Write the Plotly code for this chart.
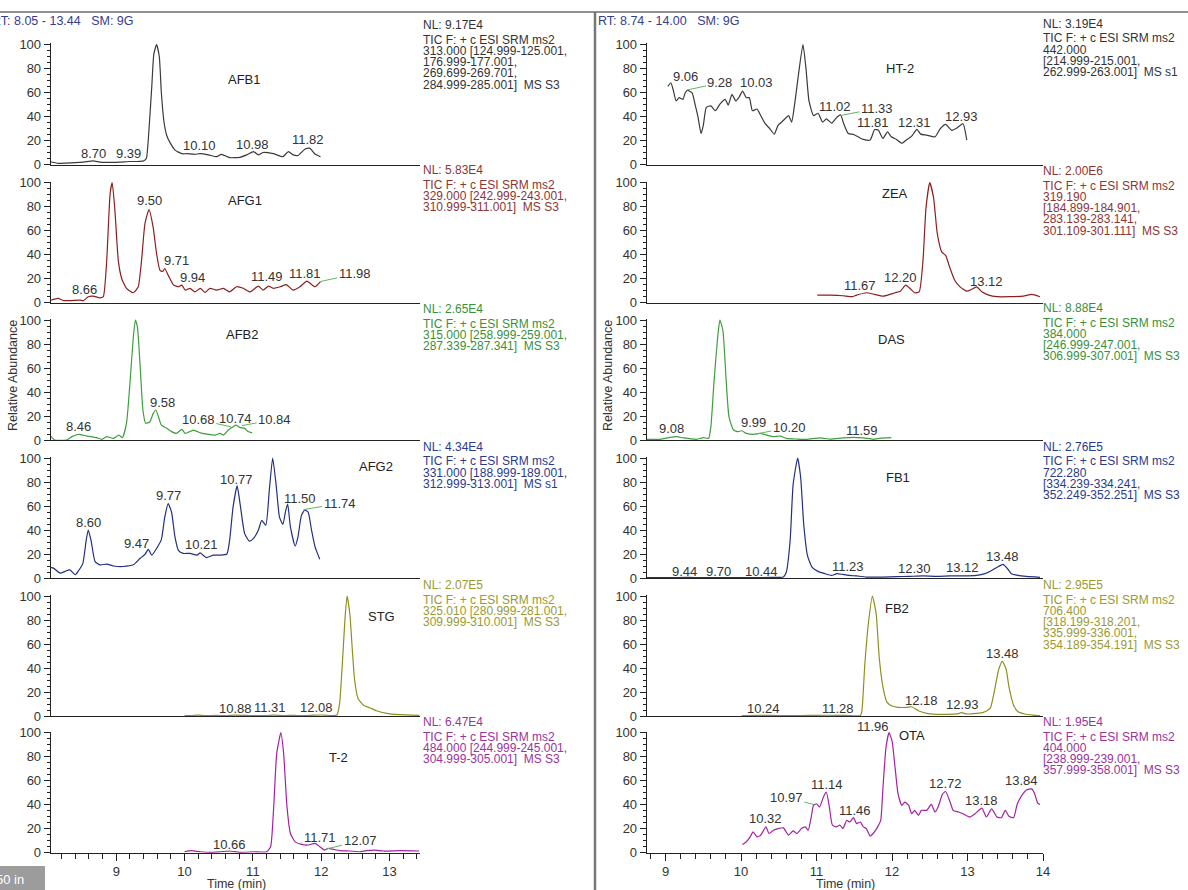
import plotly.graph_objects as go

# ---------------- data ----------------
AFB1_t = [8.04, 8.15, 8.27, 8.40, 8.52, 8.66, 8.76, 8.86, 9.05, 9.20, 9.30, 9.40, 9.44, 9.48, 9.52, 9.55, 9.59, 9.63, 9.66, 9.70,
          9.74, 9.79, 9.86, 9.96, 10.03, 10.15, 10.23, 10.35, 10.47, 10.54, 10.66, 10.81, 10.91, 11.01, 11.08, 11.15, 11.30, 11.44, 11.52, 11.59,
          11.66, 11.76, 11.83, 11.91, 11.99]
AFB1_v = [2.3, 1.0, 1.2, 1.5, 2.0, 3.0, 2.0, 1.7, 2.0, 2.5, 2.5, 3.0, 5, 30, 65, 92, 100, 90, 60, 35,
          24, 18, 12, 9, 9, 8.5, 9, 8, 6.5, 8.5, 5.7, 6, 8, 10.8, 8, 10, 9, 6.5, 10.8, 8,
          7.5, 12.7, 13.6, 8.8, 6.5]

AFG1_t = [8.04, 8.15, 8.23, 8.47, 8.52, 8.59, 8.66, 8.76, 8.81, 8.86, 8.91, 8.94, 8.98, 9.03, 9.08, 9.15, 9.25, 9.32, 9.37, 9.42,
          9.48, 9.54, 9.59, 9.64, 9.68, 9.71, 9.76, 9.84, 9.91, 9.96, 10.01, 10.08, 10.15, 10.23, 10.30, 10.37, 10.47, 10.57, 10.66, 10.76,
          10.86, 10.96, 11.08, 11.15, 11.23, 11.30, 11.40, 11.49, 11.59, 11.69, 11.79, 11.91, 11.99]
AFG1_v = [2, 3.6, 1.7, 2.2, 1.7, 5, 5.5, 4, 5, 35, 91, 100, 77, 35, 20, 12, 8.3, 13, 35, 66,
          77.6, 63, 41, 27, 26, 28.5, 23, 14.7, 13.3, 14.7, 10.5, 12, 9, 12, 8.6, 12, 10.5, 12, 9, 13.3,
          12, 9, 13.8, 10.5, 13.8, 12, 13.3, 15, 10.5, 13.3, 18, 13.3, 17.5]

AFB2_t = [8.04, 8.10, 8.27, 8.35, 8.45, 8.57, 8.71, 8.79, 8.86, 8.96, 9.04, 9.09, 9.15, 9.20, 9.25, 9.28, 9.31, 9.35, 9.39, 9.43,
          9.49, 9.54, 9.58, 9.62, 9.66, 9.74, 9.81, 9.88, 9.96, 10.01, 10.13, 10.23, 10.35, 10.45, 10.52, 10.57, 10.64, 10.71, 10.75, 10.81,
          10.88, 10.93, 10.99]
AFB2_v = [3.3, 0, 0, 2.8, 4.7, 3.3, 2, 0.6, 2.8, 1.4, 4, 1.9, 14, 47, 86, 100, 94, 61, 25, 14,
          15, 22, 25, 19, 12.4, 9.7, 7, 5.5, 8.8, 5.5, 8.3, 6, 4.7, 4.1, 5.5, 4.1, 8.3, 11, 12.4, 10.5,
          9.7, 7, 6]

AFG2_t = [8.04, 8.08, 8.18, 8.25, 8.32, 8.40, 8.44, 8.51, 8.56, 8.59, 8.63, 8.69, 8.76, 8.86, 8.96, 9.10, 9.25, 9.35, 9.42, 9.47,
          9.52, 9.59, 9.66, 9.71, 9.76, 9.81, 9.86, 9.91, 9.98, 10.08, 10.18, 10.23, 10.27, 10.32, 10.42, 10.52, 10.62, 10.66, 10.71, 10.77,
          10.82, 10.88, 10.95, 11.01, 11.08, 11.13, 11.19, 11.24, 11.29, 11.34, 11.39, 11.44, 11.48, 11.51, 11.55, 11.62, 11.66, 11.71, 11.76, 11.81,
          11.86, 11.91, 11.98]
AFG2_v = [8.8, 8.2, 4, 5.5, 6.8, 2.7, 5.5, 12, 31.5, 40, 31.5, 13.7, 11, 11.5, 10, 9.6, 11, 16.4, 19.7, 23.8,
          19, 24.6, 32, 50.7, 62, 54.8, 34, 23, 20.5, 20.5, 19, 21, 19, 17, 19, 19, 20, 31.5, 59, 76.7,
          59, 37, 30.7, 33, 39.7, 48, 44, 72.6, 100, 78, 50.7, 44.7, 56, 61.6, 42.5, 26.6, 34, 52, 56.7, 54.8,
          39.7, 26, 15.6]

STG_t = [10.00, 10.10, 10.20, 10.30, 10.45, 10.60, 10.75, 10.90, 11.05, 11.20, 11.31, 11.45, 11.60, 11.75, 11.90, 12.05, 12.15, 12.23, 12.27, 12.31,
         12.35, 12.38, 12.42, 12.46, 12.49, 12.54, 12.62, 12.71, 12.81, 12.96, 13.15, 13.44]
STG_v = [0.3, 0.3, 0.8, 0.3, 0.5, 0.3, 0.8, 0.5, 0.3, 0.4, 0.8, 0.4, 0.5, 0.3, 0.7, 0.8, 0.4, 0.8, 10.5, 43.5,
         82, 100, 85, 52, 30, 14.6, 9, 6.9, 4.4, 2.2, 1.1, 0.5]

T2_t = [10.00, 10.10, 10.23, 10.37, 10.52, 10.66, 10.81, 11.01, 11.20, 11.26, 11.30, 11.35, 11.41, 11.45, 11.50, 11.55, 11.62, 11.71, 11.81, 11.91,
        11.98, 12.05, 12.10, 12.18, 12.27, 12.42, 12.57, 12.66, 12.79, 12.91, 13.15, 13.44]
T2_v = [0.8, 1.7, 0.8, 0.3, 0.8, 1.4, 0.3, 0.8, 0.8, 5, 33, 83, 100, 83, 38, 16, 9, 7, 6.4, 7.8,
        5, 2.2, 3.6, 2.8, 1.7, 1.4, 0.8, 1.7, 2.2, 1.4, 1.7, 1.4]

HT2_t = [9.03, 9.07, 9.10, 9.14, 9.18, 9.23, 9.26, 9.29, 9.35, 9.39, 9.43, 9.47, 9.50, 9.54, 9.60, 9.66, 9.72, 9.79, 9.83, 9.88,
         9.93, 9.97, 10.02, 10.07, 10.11, 10.15, 10.21, 10.26, 10.32, 10.38, 10.44, 10.49, 10.56, 10.63, 10.67, 10.71, 10.76, 10.82, 10.86, 10.90,
         10.96, 11.02, 11.08, 11.13, 11.20, 11.27, 11.32, 11.36, 11.42, 11.49, 11.55, 11.62, 11.71, 11.77, 11.82, 11.88, 11.94, 11.99, 12.06, 12.13,
         12.19, 12.26, 12.33, 12.38, 12.46, 12.57, 12.64, 12.71, 12.79, 12.86, 12.94, 12.99]
HT2_v = [65.2, 67.9, 62.5, 53, 55.7, 54.3, 59.8, 61.7, 59.8, 50.3, 39.4, 25.8, 32.6, 47.6, 48.9, 44.8, 50.3, 54.3, 49.5, 58.4,
         53, 55.7, 61.1, 55.7, 55.7, 44.8, 46.2, 40.8, 34, 29.9, 25.3, 32.6, 36.7, 40.8, 35.3, 50.3, 74.7, 100, 80.2, 53,
         40.8, 42.7, 35.3, 38, 34.5, 39.4, 41.3, 34, 25.8, 25, 23.1, 20.9, 20.4, 29.1, 28.5, 21.7, 27.2, 23.1, 20.9, 17.7,
         20.4, 23.6, 29.3, 25.3, 24.5, 23.1, 29.9, 33.4, 28.5, 30.4, 34, 20.4]

ZEA_t = [11.01, 11.18, 11.35, 11.47, 11.53, 11.66, 11.77, 11.88, 11.97, 12.04, 12.11, 12.18, 12.24, 12.30, 12.36, 12.41, 12.45, 12.50, 12.55, 12.60,
         12.66, 12.71, 12.77, 12.83, 12.90, 12.99, 13.05, 13.12, 13.19, 13.28, 13.39, 13.56, 13.74, 13.85, 13.96]
ZEA_v = [6.3, 6.3, 5.8, 5, 6.3, 8.3, 6.9, 5.5, 6.9, 8.3, 9.6, 14.6, 11.8, 8.3, 9.1, 35, 79, 100, 87.6, 57.3,
         42.1, 39.4, 28.4, 18.7, 13.2, 9.6, 11, 13.2, 9.1, 6.3, 5, 5, 5.5, 6.9, 5]

DAS_t = [8.75, 8.93, 9.06, 9.15, 9.24, 9.32, 9.41, 9.50, 9.57, 9.60, 9.64, 9.69, 9.72, 9.76, 9.80, 9.84, 9.90, 9.96, 10.01, 10.07,
         10.16, 10.25, 10.34, 10.43, 10.52, 10.60, 10.74, 10.87, 11.05, 11.18, 11.35, 11.49, 11.62, 11.75, 11.84, 11.99]
DAS_v = [0.6, 0.6, 2.2, 2.8, 1.7, 1.1, 0.6, 1.9, 1.4, 11, 47, 85.6, 100, 91, 52.5, 19.3, 8.3, 6.9, 7.7, 5.5,
         4.7, 5.5, 4.1, 2.8, 3.3, 1.4, 0.8, 0.6, 1.7, 0.8, 1.7, 2.2, 1.7, 0.6, 1.4, 1.9]

FB1_t = [8.75, 9.00, 9.30, 9.50, 9.80, 10.10, 10.40, 10.56, 10.60, 10.65, 10.69, 10.75, 10.79, 10.83, 10.88, 10.94, 11.02, 11.11, 11.20, 11.27,
         11.35, 11.44, 11.53, 11.66, 11.88, 12.06, 12.24, 12.41, 12.59, 12.77, 12.94, 13.12, 13.23, 13.32, 13.41, 13.47, 13.53, 13.58, 13.67, 13.78,
         13.96]
FB1_v = [0.3, 0.3, 0.5, 0.3, 0.3, 0.3, 0.5, 0.8, 5, 31, 78, 100, 83.5, 45, 18.7, 9.1, 5.5, 3.6, 2.2, 3.6,
         3, 2.2, 1.7, 0.8, 0.8, 1.1, 1.4, 1.7, 1.4, 1.7, 1.7, 2.2, 3.6, 6.3, 9.6, 11.3, 7.7, 3.6, 2.2, 1.4,
         0.6]

FB2_t = [10.01, 10.24, 10.50, 10.80, 11.00, 11.28, 11.45, 11.58, 11.60, 11.64, 11.69, 11.74, 11.79, 11.83, 11.88, 11.93, 12.00, 12.08, 12.19, 12.26,
         12.35, 12.46, 12.59, 12.72, 12.86, 12.92, 12.99, 13.12, 13.21, 13.30, 13.35, 13.41, 13.46, 13.51, 13.55, 13.61, 13.67, 13.76, 13.87, 13.96]
FB2_v = [0.3, 0.6, 0.3, 0.3, 0.6, 0.6, 0.3, 0.3, 3.6, 43.5, 79, 100, 85, 49, 24, 11.8, 8.3, 7.2, 7.2, 7.7,
         4.4, 2.2, 1.4, 1.4, 1.7, 2.8, 1.7, 2.2, 3, 6.3, 18.7, 38, 45.5, 39.4, 24, 9, 3.6, 1.7, 0.8, 0.3]

OTA_t = [10.02, 10.07, 10.12, 10.16, 10.21, 10.26, 10.33, 10.37, 10.43, 10.49, 10.56, 10.63, 10.69, 10.74, 10.80, 10.85, 10.89, 10.93, 10.96, 11.00,
         11.04, 11.09, 11.13, 11.17, 11.21, 11.26, 11.31, 11.35, 11.40, 11.44, 11.49, 11.53, 11.58, 11.62, 11.66, 11.71, 11.75, 11.81, 11.85, 11.88,
         11.92, 11.96, 12.00, 12.04, 12.08, 12.13, 12.17, 12.22, 12.26, 12.30, 12.35, 12.39, 12.46, 12.52, 12.57, 12.61, 12.67, 12.71, 12.77, 12.81,
         12.88, 12.94, 13.03, 13.10, 13.19, 13.25, 13.32, 13.39, 13.45, 13.50, 13.55, 13.61, 13.66, 13.72, 13.78, 13.85, 13.89, 13.93, 13.96]
OTA_v = [6.9, 9.1, 13.2, 17.4, 13.2, 14.6, 21.5, 16, 18.7, 20.1, 20.7, 14.6, 18.2, 16, 20.1, 21.5, 18.7, 29.8, 39.4, 40.8,
         38, 46.3, 50.4, 38, 22.9, 21.5, 22.9, 20.1, 27, 25.6, 29.2, 24.2, 25.6, 21.5, 20.1, 13.8, 16, 21.5, 27, 54.5,
         87.6, 100, 93.1, 71.1, 49, 39.4, 42.1, 39.4, 32.5, 35.3, 31.1, 35.3, 35.3, 40.2, 33.9, 38, 49, 51, 42.1, 35.3,
         33.9, 32.5, 29.8, 32.5, 37.2, 29.8, 36.6, 29.8, 29.2, 35.3, 30.3, 29.2, 40.8, 47.7, 52.3, 53.2, 49, 41.3, 40.2]

# peak labels: (text, label_t, label_v, peak_t, peak_v) ; peak None -> plain label
AFB1_lbl = [("9.59", 9.59, 110, None, None), ("8.70", 8.66, 9, None, None), ("9.39", 9.18, 9, 9.40, 3),
            ("10.10", 10.22, 16, 10.10, 9), ("10.98", 10.99, 16.5, None, None), ("11.82", 11.81, 21, None, None)]
AFG1_lbl = [("8.95", 8.94, 107.5, None, None), ("9.50", 9.49, 85.5, None, None), ("9.71", 9.88, 35, 9.71, 28.5),
            ("9.94", 10.12, 21, 9.94, 14), ("8.66", 8.54, 11, None, None), ("11.49", 11.20, 22, 11.49, 14),
            ("11.81", 11.76, 24, None, None), ("11.98", 12.49, 24, 11.98, 17.5)]
AFB2_lbl = [("9.29", 9.27, 108, None, None), ("8.46", 8.44, 11.6, None, None), ("9.58", 9.67, 31, 9.58, 25),
            ("10.68", 10.20, 17, 10.68, 11), ("10.74", 10.74, 18, None, None), ("10.84", 11.32, 17, 10.84, 12)]
AFG2_lbl = [("8.60", 8.59, 46.6, None, None), ("9.47", 9.30, 29, 9.47, 24), ("9.77", 9.76, 68.5, None, None),
            ("10.21", 10.25, 28, 10.21, 21), ("10.77", 10.76, 82, None, None), ("11.30", 11.29, 107, None, None),
            ("11.50", 11.69, 66.6, 11.50, 61), ("11.74", 12.27, 62, 11.74, 57)]
STG_lbl = [("12.39", 12.38, 107, None, None), ("10.88", 10.74, 6.5, 10.88, 0.8), ("11.31", 11.25, 7, None, None),
           ("12.08", 11.93, 7, 12.08, 0.8)]
T2_lbl = [("11.42", 11.41, 107, None, None), ("10.66", 10.66, 7.2, None, None), ("11.71", 11.98, 12.8, 11.71, 8),
          ("12.07", 12.57, 10, 12.07, 3)]
HT2_lbl = [("10.83", 10.83, 106, None, None), ("9.06", 9.26, 73, 9.06, 68), ("9.28", 9.72, 68, 9.28, 62),
           ("10.03", 10.21, 68, 10.03, 61), ("11.02", 11.24, 48, 11.02, 43), ("11.33", 11.80, 46.7, 11.33, 41),
           ("11.81", 11.75, 34.8, None, None), ("12.31", 12.30, 34.8, None, None), ("12.93", 12.92, 40, None, None)]
ZEA_lbl = [("12.51", 12.50, 106, None, None), ("11.67", 11.58, 14, None, None), ("12.20", 12.11, 21, 12.20, 15),
           ("13.12", 13.25, 18, 13.12, 13)]
DAS_lbl = [("9.73", 9.72, 106, None, None), ("9.08", 9.08, 9.7, None, None), ("9.99", 10.16, 14.4, 9.99, 7),
           ("10.20", 10.64, 10.5, 10.20, 5), ("11.59", 11.60, 8.3, None, None)]
FB1_lbl = [("10.75", 10.75, 106, None, None), ("9.44", 9.25, 5.5, 9.44, 0.5), ("9.70", 9.70, 5.5, None, None),
           ("10.44", 10.27, 5.5, 10.44, 0.5), ("11.23", 11.42, 9.6, 11.23, 3.5), ("12.30", 12.30, 7.7, None, None),
           ("13.12", 12.94, 8.5, 13.12, 1.5), ("13.48", 13.47, 18, None, None)]
FB2_lbl = [("11.75", 11.75, 107, None, None), ("10.24", 10.30, 6.3, None, None), ("11.28", 11.29, 6.3, None, None),
           ("12.18", 12.39, 12.7, 12.18, 7.5), ("12.93", 12.94, 10, None, None), ("13.48", 13.47, 52, None, None)]
OTA_lbl = [("11.96", 11.75, 105.5, 11.96, 99), ("10.32", 10.33, 28.4, None, None), ("10.97", 10.60, 46.3, 10.97, 40),
           ("11.14", 11.14, 56.7, None, None), ("11.46", 11.51, 35.3, 11.46, 29), ("12.72", 12.71, 57.3, None, None),
           ("13.18", 13.19, 43.5, None, None), ("13.84", 13.72, 60, 13.84, 53)]

# compound names and their position in data units
NAMES = ["AFB1", "AFG1", "AFB2", "AFG2", "STG", "T-2", "HT-2", "ZEA", "DAS", "FB1", "FB2", "OTA"]
NAME_T = [10.88, 10.88, 10.85, 12.81, 12.89, 12.25, 12.10, 12.04, 11.99, 12.08, 12.06, 12.26]
NAME_V = [71, 85, 88, 93, 83, 79.5, 80, 91, 84, 84, 90, 98]

INFO = [
    ["NL: 9.17E4", "TIC F: + c ESI SRM ms2", "313.000 [124.999-125.001,", "176.999-177.001,", "269.699-269.701,", "284.999-285.001]  MS S3"],
    ["NL: 5.83E4", "TIC F: + c ESI SRM ms2", "329.000 [242.999-243.001,", "310.999-311.001]  MS S3"],
    ["NL: 2.65E4", "TIC F: + c ESI SRM ms2", "315.000 [258.999-259.001,", "287.339-287.341]  MS S3"],
    ["NL: 4.34E4", "TIC F: + c ESI SRM ms2", "331.000 [188.999-189.001,", "312.999-313.001]  MS s1"],
    ["NL: 2.07E5", "TIC F: + c ESI SRM ms2", "325.010 [280.999-281.001,", "309.999-310.001]  MS S3"],
    ["NL: 6.47E4", "TIC F: + c ESI SRM ms2", "484.000 [244.999-245.001,", "304.999-305.001]  MS S3"],
    ["NL: 3.19E4", "TIC F: + c ESI SRM ms2", "442.000", "[214.999-215.001,", "262.999-263.001]  MS s1"],
    ["NL: 2.00E6", "TIC F: + c ESI SRM ms2", "319.190", "[184.899-184.901,", "283.139-283.141,", "301.109-301.111]  MS S3"],
    ["NL: 8.88E4", "TIC F: + c ESI SRM ms2", "384.000", "[246.999-247.001,", "306.999-307.001]  MS S3"],
    ["NL: 2.76E5", "TIC F: + c ESI SRM ms2", "722.280", "[334.239-334.241,", "352.249-352.251]  MS S3"],
    ["NL: 2.95E5", "TIC F: + c ESI SRM ms2", "706.400", "[318.199-318.201,", "335.999-336.001,", "354.189-354.191]  MS S3"],
    ["NL: 1.95E4", "TIC F: + c ESI SRM ms2", "404.000", "[238.999-239.001,", "357.999-358.001]  MS S3"],
]

SERIES_T = [AFB1_t, AFG1_t, AFB2_t, AFG2_t, STG_t, T2_t, HT2_t, ZEA_t, DAS_t, FB1_t, FB2_t, OTA_t]
SERIES_V = [AFB1_v, AFG1_v, AFB2_v, AFG2_v, STG_v, T2_v, HT2_v, ZEA_v, DAS_v, FB1_v, FB2_v, OTA_v]
LABELS = [AFB1_lbl, AFG1_lbl, AFB2_lbl, AFG2_lbl, STG_lbl, T2_lbl, HT2_lbl, ZEA_lbl, DAS_lbl, FB1_lbl, FB2_lbl, OTA_lbl]

# ---------------- styling / layout ----------------
W, H = 1188, 890
FONT = "Liberation Sans, Arial, sans-serif"
LINE_COL = ["#3a3a3a", "#8b1f1f", "#3e9e3e", "#22307f", "#8f8f1f", "#a222a2"] * 2
TEXT_COL = ["#333333", "#8b3535", "#3a8f3a", "#2a3a8a", "#9a9a30", "#9a339a"] * 2
LEADER = "#5db85d"

ROW_BOTTOM = [164.5, 302.7, 440.0, 578.0, 716.0, 852.7]
ROW_H = 121.2
NL_Y = [[25, 170, 309, 447, 585, 722], [24, 171, 308, 447, 585, 722]]
COL_X = [(50.7, 419.5), (646.7, 1043.0)]
COL_RANGE = [(8.04, 13.44), (8.75, 14.0)]
INFO_X = [421, 1041]

fig = go.Figure()
annotations = []
shapes = []
layout = dict(width=W, height=H, margin=dict(l=0, r=0, t=0, b=0, pad=0, autoexpand=False),
              paper_bgcolor="white", plot_bgcolor="white", showlegend=False,
              font=dict(family=FONT, size=12, color="#333"))

for i in range(12):
    n = i + 1
    col, row = divmod(i, 6)
    xa = "xaxis" if n == 1 else f"xaxis{n}"
    ya = "yaxis" if n == 1 else f"yaxis{n}"
    xr = "x" if n == 1 else f"x{n}"
    yr = "y" if n == 1 else f"y{n}"
    bottom = row == 5
    b = ROW_BOTTOM[row]
    x0, x1 = COL_X[col]
    layout[xa] = dict(domain=[x0 / W, x1 / W], range=list(COL_RANGE[col]), anchor=yr, automargin=False,
                      showline=True, linecolor="#222", linewidth=1, showgrid=False, zeroline=False,
                      layer="below traces",
                      ticks="outside" if bottom else "", ticklen=7, tickcolor="#222",
                      dtick=1, tick0=0, showticklabels=bottom,
                      tickfont=dict(size=13, color="#333"),
                      minor=dict(dtick=0.2, tick0=0, ticks="outside", ticklen=5, tickcolor="#222") if bottom else dict(ticks=""))
    layout[ya] = dict(domain=[1 - b / H, 1 - (b - ROW_H) / H], range=[0, 101], anchor=xr, automargin=False,
                      showline=True, linecolor="#222", linewidth=1, showgrid=False, zeroline=False,
                      layer="below traces",
                      ticks="outside", ticklen=6, tickcolor="#222", tickvals=[0, 20, 40, 60, 80, 100],
                      tickfont=dict(size=13, color="#333"),
                      minor=dict(tickvals=[v for v in range(5, 100, 5) if v % 20], ticks="outside",
                                 ticklen=3, tickcolor="#222"))
    fig.add_trace(go.Scatter(x=SERIES_T[i], y=SERIES_V[i], mode="lines", xaxis=xr, yaxis=yr,
                             line=dict(color=LINE_COL[i], width=1.2, shape="spline", smoothing=0.5),
                             hoverinfo="skip"))
    # compound name
    annotations.append(dict(x=NAME_T[i], y=NAME_V[i], xref=xr, yref=yr, text=NAMES[i], showarrow=False,
                            font=dict(size=13, color="#222")))
    # peak labels
    for (txt, lt, lv, pt, pv) in LABELS[i]:
        if pt is None:
            annotations.append(dict(x=lt, y=lv, xref=xr, yref=yr, text=txt, showarrow=False,
                                    font=dict(size=13, color="#333")))
        else:
            annotations.append(dict(x=pt, y=pv, xref=xr, yref=yr, ax=lt, ay=lv, axref=xr, ayref=yr,
                                    text=txt, showarrow=True, arrowhead=0, arrowwidth=1,
                                    arrowcolor=LEADER, standoff=0, startstandoff=0,
                                    font=dict(size=13, color="#333")))
    # info block
    y0 = NL_Y[col][row]
    for k, line in enumerate(INFO[i]):
        ypx = y0 if k == 0 else y0 + 14.5 + (k - 1) * 11.3
        annotations.append(dict(x=INFO_X[col] / W, y=1 - ypx / H, xref="paper", yref="paper",
                                xanchor="left", yanchor="middle", showarrow=False,
                                text=line.replace("  ", "\u00a0 "),
                                font=dict(size=12, color=TEXT_COL[i])))

NB = "\u00a0"
HEADERS = [("RT: 8.05 - 13.44" + NB * 3 + "SM: 9G", -10), ("RT: 8.74 - 14.00" + NB * 3 + "SM: 9G", 596)]
for txt, xp in HEADERS:
    annotations.append(dict(x=xp / W, y=1 - 20.5 / H, xref="paper", yref="paper", xanchor="left",
                            yanchor="middle", showarrow=False, text=txt,
                            font=dict(size=12.5, color="#34408c")))
for xp in (13, 608):
    annotations.append(dict(x=xp / W, y=1 - 376 / H, xref="paper", yref="paper", textangle=-90,
                            xanchor="center", yanchor="middle",
                            showarrow=False, text="Relative Abundance", font=dict(size=12.5, color="#333")))
for xp in (236, 845):
    annotations.append(dict(x=xp / W, y=1 - 884 / H, xref="paper", yref="paper", showarrow=False,
                            xanchor="center", yanchor="middle",
                            text="Time (min)", font=dict(size=12.5, color="#333")))

shapes.append(dict(type="line", xref="paper", yref="paper", x0=0, x1=1, y0=1 - 12 / H, y1=1 - 12 / H,
                   line=dict(color="#222", width=1)))
shapes.append(dict(type="line", xref="paper", yref="paper", x0=595 / W, x1=595 / W, y0=0, y1=1 - 12 / H,
                   line=dict(color="#777", width=2.5)))
shapes.append(dict(type="rect", xref="paper", yref="paper", x0=0, x1=45 / W, y0=0, y1=1 - 866 / H,
                   fillcolor="#9c9c9c", line=dict(width=0)))
annotations.append(dict(x=-6 / W, y=1 - 879 / H, xref="paper", yref="paper", xanchor="left", yanchor="middle",
                        showarrow=False, text="50 in", font=dict(size=13, color="white")))

layout["annotations"] = annotations
layout["shapes"] = shapes
fig.update_layout(**layout)
PIN = ("var d=document.getElementById('{plot_id}');"
       "d.style.position='fixed';d.style.top='0px';d.style.left='0px';"
       "document.documentElement.style.margin='0';document.body.style.margin='0';"
       "document.documentElement.style.overflow='hidden';document.body.style.overflow='hidden';")
fig.write_html("out.html", config={"displayModeBar": False}, post_script=PIN)
